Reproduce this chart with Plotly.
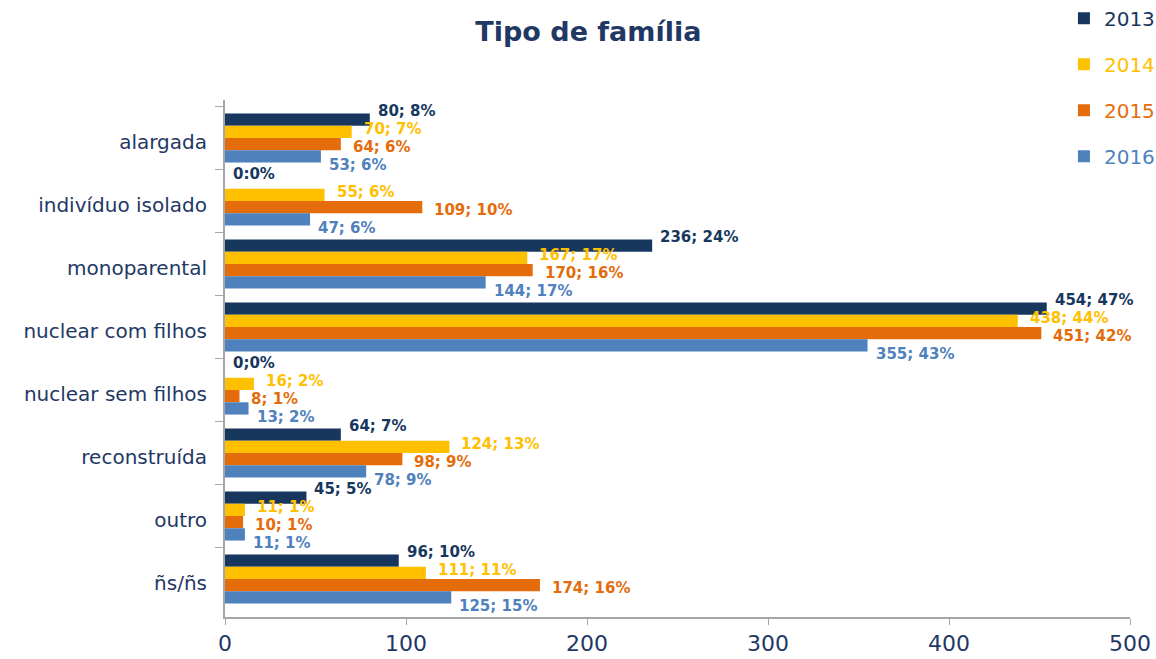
import plotly.graph_objects as go

categories = ["alargada", "indivíduo isolado", "monoparental", "nuclear com filhos",
              "nuclear sem filhos", "reconstruída", "outro", "ñs/ñs"]
years = ["2013", "2014", "2015", "2016"]
v2013 = [80, 0, 236, 454, 0, 64, 45, 96]
v2014 = [70, 55, 167, 438, 16, 124, 11, 111]
v2015 = [64, 109, 170, 451, 8, 98, 10, 174]
v2016 = [53, 47, 144, 355, 13, 78, 11, 125]
p2013 = ["8%", "0%", "24%", "47%", "0%", "7%", "5%", "10%"]
p2014 = ["7%", "6%", "17%", "44%", "2%", "13%", "1%", "11%"]
p2015 = ["6%", "10%", "16%", "42%", "1%", "9%", "1%", "16%"]
p2016 = ["6%", "6%", "17%", "43%", "2%", "9%", "1%", "15%"]
colors = ["#17375E", "#FFC000", "#E46C0A", "#4F81BD"]
x_ticks = [0, 100, 200, 300, 400, 500]

values = [v2013, v2014, v2015, v2016]
pcts = [p2013, p2014, p2015, p2016]
label_yshift = [27, 9, -9, -27]   # style: vertical spread of labels per series
label_xshift = [6, 10, 10, 6]

fig = go.Figure()
annotations = []
for i, (yr, vals, pc, col) in enumerate(zip(years, values, pcts, colors)):
    fig.add_trace(go.Bar(
        y=categories, x=vals, orientation="h",
        name=f'<span style="color:{col}">{yr}</span>',
        legendgroup=yr,
        marker=dict(color=col, line=dict(width=0)),
    ))
    for j, (cat, v, p) in enumerate(zip(categories, vals, pc)):
        if v == 0:
            sep = ":" if j == 1 else ";"
            txt = f"{v}{sep}{p}"
        else:
            txt = f"{v}; {p}"
        annotations.append(dict(
            x=v, y=cat, xref="x", yref="y", text=f"<b>{txt}</b>",
            showarrow=False, xanchor="left", yanchor="middle",
            xshift=label_xshift[i], yshift=label_yshift[i],
            font=dict(family="DejaVu Sans", size=15, color=col),
        ))

fig.update_layout(
    width=1156, height=659,
    plot_bgcolor="white", paper_bgcolor="white",
    barmode="group", bargap=0.22, bargroupgap=0,
    margin=dict(l=225, r=26, t=100, b=42, autoexpand=False),
    annotations=annotations,
    title=dict(text="<b>Tipo de família</b>", x=0.509, xanchor="center",
               y=1 - 32 / 659, yanchor="middle", yref="container",
               font=dict(family="DejaVu Sans", size=27, color="#1F3864")),
    legend=dict(x=0.927, xanchor="left", y=1.196, yanchor="top",
                traceorder="grouped", tracegroupgap=17,
                font=dict(family="DejaVu Sans", size=20),
                bgcolor="rgba(0,0,0,0)"),
    font=dict(family="DejaVu Sans", color="#1F3864"),
)
fig.update_xaxes(range=[0, 500], tickvals=x_ticks, showgrid=False, zeroline=False,
                 showline=True, linecolor="#A6A6A6", linewidth=2,
                 ticks="outside", tickcolor="#A6A6A6", ticklen=6,
                 tickfont=dict(family="DejaVu Sans", size=22, color="#1F3864"))
fig.update_yaxes(autorange="reversed", showgrid=False, zeroline=False,
                 showline=True, linecolor="#A6A6A6", linewidth=2,
                 ticks="outside", tickson="boundaries", ticklen=8, tickcolor="#A6A6A6",
                 ticklabelstandoff=12, ticklabelshift=-4,
                 tickfont=dict(family="DejaVu Sans", size=20, color="#1F3864"))

fig.write_html("out.html", config={"displayModeBar": False},
               post_script="document.body.style.margin='0';")
